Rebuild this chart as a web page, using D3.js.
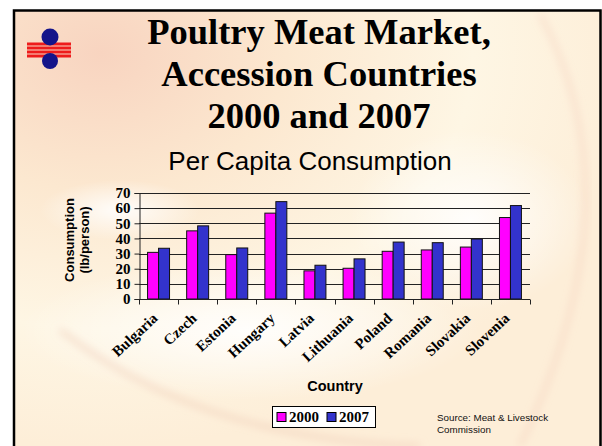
<!DOCTYPE html>
<html>
<head>
<meta charset="utf-8">
<script src="https://cdn.jsdelivr.net/npm/d3@7"></script>
<style>
  body { margin: 0; background: #fff; }
  svg { display: block; }
</style>
</head>
<body>
<script>
// chart data
var countries = ['Bulgaria', 'Czech', 'Estonia', 'Hungary', 'Latvia', 'Lithuania', 'Poland', 'Romania', 'Slovakia', 'Slovenia'];
var years = ['2000', '2007'];
var cons2000 = [30.8, 45, 29.3, 56.7, 18.6, 20.3, 31.5, 32.4, 34.3, 53.8];
var cons2007 = [33.5, 48.3, 33.7, 64.3, 22.3, 26.5, 37.6, 37.2, 39.6, 61.7];
var yTicks = [0, 10, 20, 30, 40, 50, 60, 70];
var titleLines = ['Poultry Meat Market,', 'Accession Countries', '2000 and 2007'];

var width = 602, height = 446;
var svg = d3.select('body').append('svg')
    .attr('width', width)
    .attr('height', height);

var defs = svg.append('defs');

// slide background - cream with peach wash
var bg = defs.append('radialGradient').attr('id', 'bg')
    .attr('cx', '0.15').attr('cy', '0.1').attr('r', '0.9');
bg.append('stop').attr('offset', '0').attr('stop-color', '#f8d4c0');
bg.append('stop').attr('offset', '0.35').attr('stop-color', '#fce8d0');
bg.append('stop').attr('offset', '0.7').attr('stop-color', '#fef6e4');
bg.append('stop').attr('offset', '1').attr('stop-color', '#fdeed8');

var glow = defs.append('radialGradient').attr('id', 'glow');
glow.append('stop').attr('offset', '0').attr('stop-color', '#ffffff').attr('stop-opacity', 0.9);
glow.append('stop').attr('offset', '1').attr('stop-color', '#ffffff').attr('stop-opacity', 0);

defs.append('filter').attr('id', 'blur')
    .append('feGaussianBlur').attr('stdDeviation', 4);

svg.append('rect')
    .attr('x', 13).attr('y', 10)
    .attr('width', width - 13).attr('height', height - 10)
    .attr('fill', 'url(#bg)');

// soft white swooshes
svg.append('ellipse')
    .attr('cx', 250).attr('cy', 330).attr('rx', 230).attr('ry', 70)
    .attr('fill', 'url(#glow)');
svg.append('ellipse')
    .attr('cx', 470).attr('cy', 220).attr('rx', 120).attr('ry', 90)
    .attr('fill', 'url(#glow)');
svg.append('ellipse')
    .attr('cx', 120).attr('cy', 210).attr('rx', 80).attr('ry', 30)
    .attr('fill', 'url(#glow)');

// faint arcs
svg.append('path')
    .attr('d', 'M 540 14 Q 640 200 520 446')
    .attr('fill', 'none').attr('stroke', '#f2c6b4').attr('stroke-width', 2)
    .attr('filter', 'url(#blur)');
svg.append('path')
    .attr('d', 'M 60 330 Q 200 440 420 446')
    .attr('fill', 'none').attr('stroke', '#f0cdb8').attr('stroke-width', 3)
    .attr('filter', 'url(#blur)');

// slide frame
svg.append('path')
    .attr('d', 'M 14 446 L 14 10.5 L 600.5 10.5 L 600.5 446')
    .attr('fill', 'none').attr('stroke', '#000').attr('stroke-width', 2.5);

// logo
var logo = svg.append('g');
[44, 48, 52, 56].forEach(function(y) {
    logo.append('rect').attr('x', 27).attr('y', y - 1.5)
        .attr('width', 44).attr('height', 3).attr('fill', '#ee1c1c');
});
logo.append('circle').attr('cx', 50).attr('cy', 37).attr('r', 8.5).attr('fill', '#14148a');
logo.append('circle').attr('cx', 50).attr('cy', 61).attr('r', 8).attr('fill', '#14148a');

// titles
svg.selectAll('.title')
    .data(titleLines)
    .enter().append('text')
    .attr('class', 'title')
    .attr('x', 319)
    .attr('y', function(d, i) { return 44 + i * 42; })
    .attr('text-anchor', 'middle')
    .attr('font-family', 'Liberation Serif, Times New Roman, serif')
    .attr('font-weight', 'bold')
    .attr('font-size', 36.5)
    .text(function(d) { return d; });

svg.append('text')
    .attr('x', 310).attr('y', 170)
    .attr('text-anchor', 'middle')
    .attr('font-family', 'Liberation Sans, Arial, sans-serif')
    .attr('font-size', 26)
    .text('Per Capita Consumption');

// chart
var plot = { left: 139, right: 530, top: 193, bottom: 299 };

var x0 = d3.scaleBand()
    .domain(countries)
    .range([plot.left, plot.right]);

var x1 = d3.scaleBand()
    .domain(years)
    .range([0, x0.bandwidth()])
    .paddingOuter(0.78);

var y = d3.scaleLinear()
    .domain([0, 70])
    .range([plot.bottom, plot.top]);

var color = d3.scaleOrdinal()
    .domain(years)
    .range(['#ff00ff', '#3333cc']);

// gridlines
svg.append('g')
    .selectAll('line')
    .data(yTicks.slice(1))
    .enter().append('line')
    .attr('x1', plot.left).attr('x2', plot.right)
    .attr('y1', function(d) { return Math.round(y(d)) + 0.5; })
    .attr('y2', function(d) { return Math.round(y(d)) + 0.5; })
    .attr('stroke', '#222').attr('stroke-width', 1);

// bars
var rows = countries.map(function(c, i) {
    return { country: c, values: [
        { year: '2000', value: cons2000[i] },
        { year: '2007', value: cons2007[i] }
    ] };
});

svg.append('g')
    .selectAll('g')
    .data(rows)
    .enter().append('g')
    .attr('transform', function(d) { return 'translate(' + x0(d.country) + ',0)'; })
    .selectAll('rect')
    .data(function(d) { return d.values; })
    .enter().append('rect')
    .attr('x', function(d) { return x1(d.year); })
    .attr('y', function(d) { return y(d.value); })
    .attr('width', x1.bandwidth())
    .attr('height', function(d) { return y(0) - y(d.value); })
    .attr('fill', function(d) { return color(d.year); })
    .attr('stroke', '#111').attr('stroke-width', 1);

// y axis
var yAxis = svg.append('g')
    .attr('transform', 'translate(' + (plot.left + 0.5) + ',0)')
    .call(d3.axisLeft(y).tickValues(yTicks).tickSize(5).tickPadding(4));
yAxis.selectAll('text')
    .attr('font-family', 'Liberation Serif, Times New Roman, serif')
    .attr('font-weight', 'bold')
    .attr('font-size', 15)
    .attr('fill', '#000');
yAxis.selectAll('line, path').attr('stroke', '#222');

// x axis - ticks between categories
var xAxis = svg.append('g')
    .attr('transform', 'translate(0,' + (plot.bottom + 0.5) + ')');
xAxis.append('line')
    .attr('x1', plot.left).attr('x2', plot.right)
    .attr('stroke', '#222');
xAxis.selectAll('.tick')
    .data(countries.concat(['end']))
    .enter().append('line')
    .attr('x1', function(d, i) { return Math.round(plot.left + i * x0.step()) + 0.5; })
    .attr('x2', function(d, i) { return Math.round(plot.left + i * x0.step()) + 0.5; })
    .attr('y1', 0).attr('y2', 5)
    .attr('stroke', '#222');

xAxis.selectAll('.lab')
    .data(countries)
    .enter().append('text')
    .attr('transform', function(d) {
        return 'translate(' + (x0(d) + x0.bandwidth() / 2) + ',20) rotate(-43)';
    })
    .attr('text-anchor', 'end')
    .attr('font-family', 'Liberation Serif, Times New Roman, serif')
    .attr('font-weight', 'bold')
    .attr('font-size', 15)
    .text(function(d) { return d; });

// axis titles
svg.append('text')
    .attr('x', 335).attr('y', 391)
    .attr('text-anchor', 'middle')
    .attr('font-family', 'Liberation Sans, Arial, sans-serif')
    .attr('font-weight', 'bold')
    .attr('font-size', 14.5)
    .text('Country');

var yTitle = svg.append('text')
    .attr('transform', 'translate(77,240) rotate(-90)')
    .attr('text-anchor', 'middle')
    .attr('font-family', 'Liberation Sans, Arial, sans-serif')
    .attr('font-weight', 'bold')
    .attr('font-size', 13);
yTitle.append('tspan').attr('x', 0).attr('dy', -3).text('Consumption');
yTitle.append('tspan').attr('x', 0).attr('dy', 15).text('(lb/person)');

// legend
var legend = svg.append('g').attr('transform', 'translate(272,406)');
legend.append('rect')
    .attr('x', 0.5).attr('y', 0.5).attr('width', 103).attr('height', 21)
    .attr('fill', '#fff').attr('stroke', '#000').attr('stroke-width', 1);
var item = legend.selectAll('.item')
    .data(years)
    .enter().append('g')
    .attr('transform', function(d, i) { return 'translate(' + (5 + i * 50) + ',0)'; });
item.append('rect')
    .attr('x', 0).attr('y', 6.5).attr('width', 9).attr('height', 9)
    .attr('fill', function(d) { return color(d); })
    .attr('stroke', '#000').attr('stroke-width', 1);
item.append('text')
    .attr('x', 12).attr('y', 16)
    .attr('font-family', 'Liberation Serif, Times New Roman, serif')
    .attr('font-weight', 'bold')
    .attr('font-size', 15)
    .text(function(d) { return d; });

// source note
var src = svg.append('text')
    .attr('font-family', 'Liberation Sans, Arial, sans-serif')
    .attr('font-size', 9.8)
    .attr('fill', '#111');
src.append('tspan').attr('x', 437).attr('y', 421).text('Source: Meat & Livestock');
src.append('tspan').attr('x', 437).attr('y', 433).text('Commission');
</script>
</body>
</html>
